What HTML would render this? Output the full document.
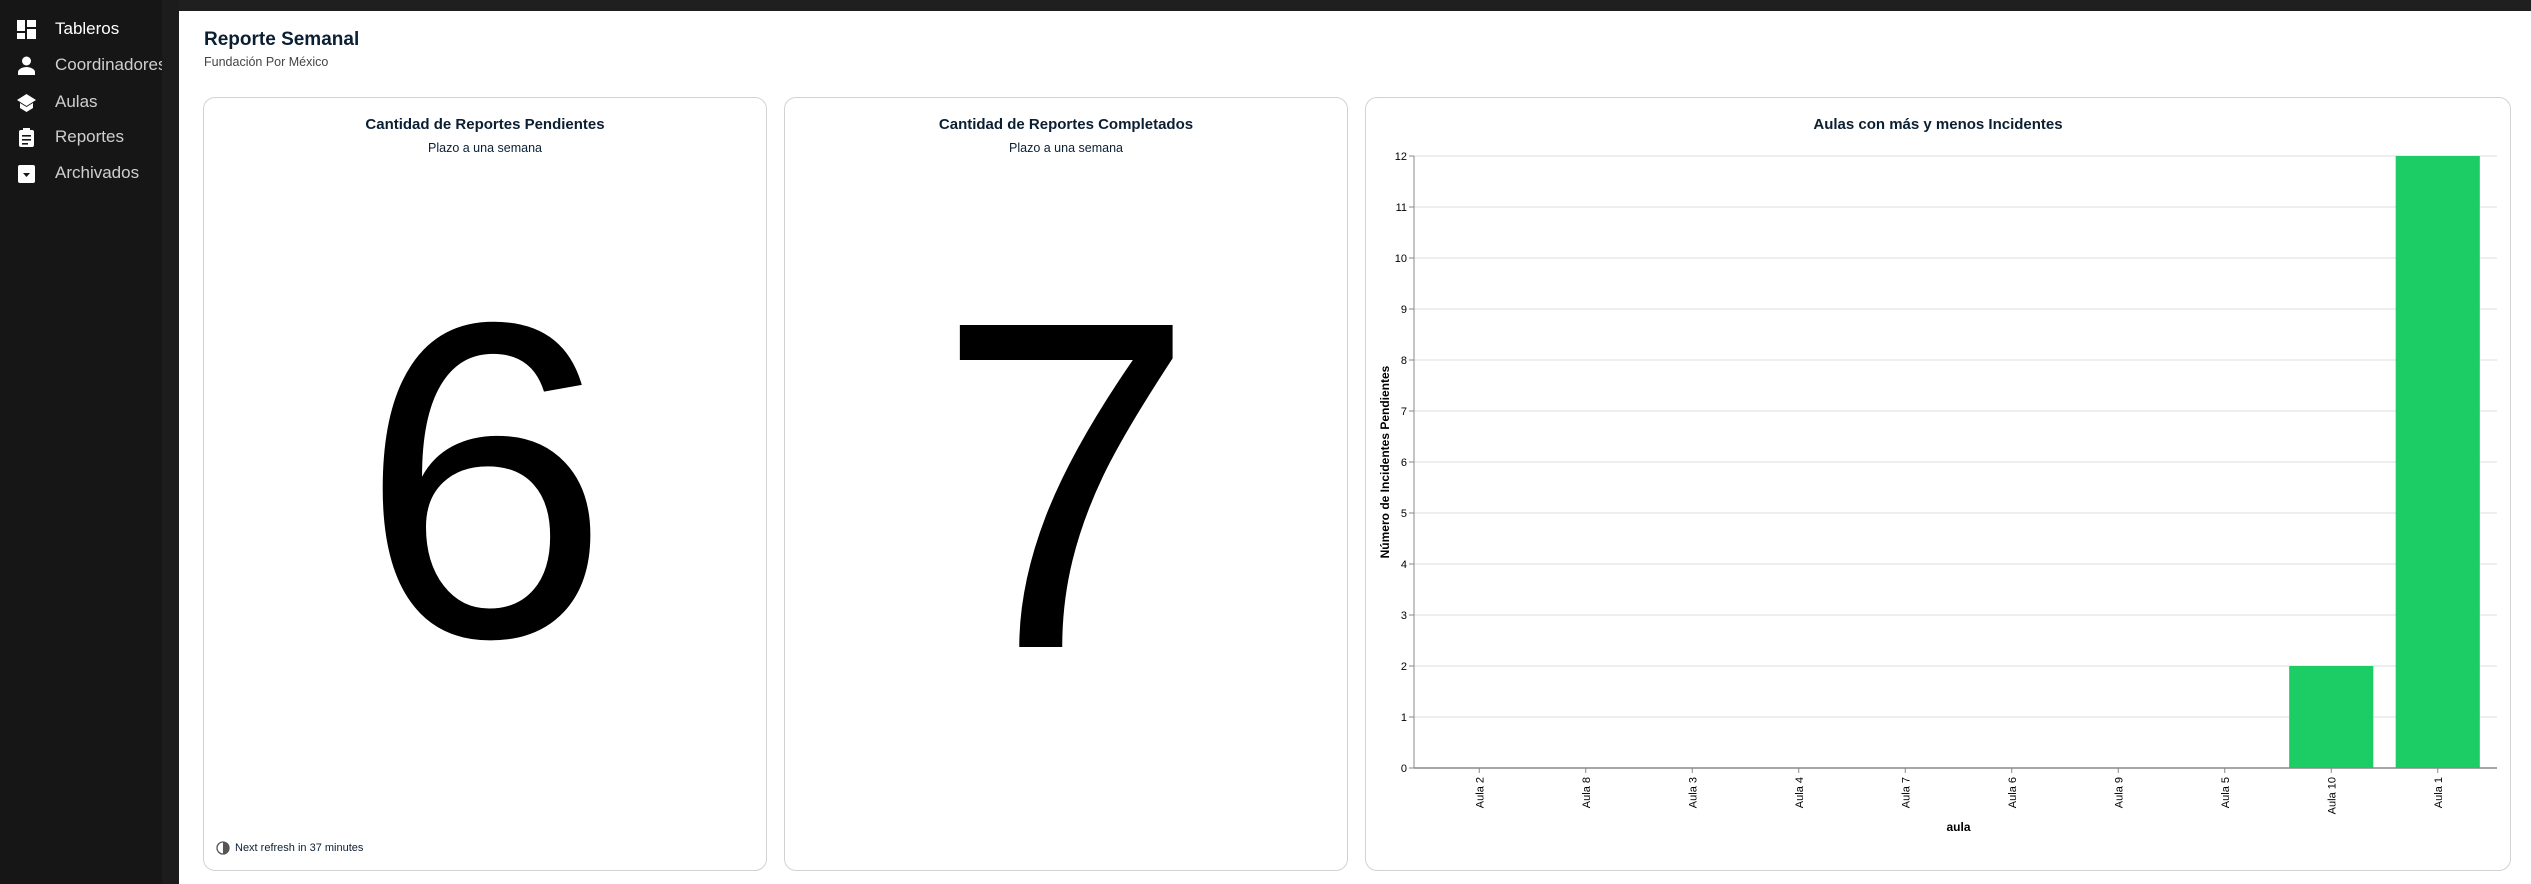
<!DOCTYPE html>
<html><head><meta charset="utf-8">
<style>
*{box-sizing:border-box;margin:0;padding:0}
body{width:2531px;height:884px;overflow:hidden;background:#fff;font-family:"Liberation Sans",sans-serif;position:relative}
#topbar{position:absolute;left:0;top:0;width:2531px;height:11px;background:#1f1f1f}
#sidebar{position:absolute;left:0;top:0;width:162px;height:884px;background:#161616}
#gutter{position:absolute;left:162px;top:0;width:17px;height:884px;background:#1c1c1c}
.nav{position:absolute;left:17px;height:30px;display:flex;align-items:center;color:#cfcfcf;font-size:17px;white-space:nowrap;width:145px;overflow:hidden}
.nav .ic{width:19px;height:19px;margin-right:19px;flex:none}
.t{position:absolute;color:#0b1f33}
.card{position:absolute;border:1px solid #cfd3d6;border-radius:12px;background:#fff}
.ct{position:absolute;left:0;right:0;text-align:center;font-weight:bold;font-size:15px;color:#0b1f33}
.cs{position:absolute;left:0;right:0;text-align:center;font-size:12.5px;color:#0b1f33}
.big{position:absolute;left:0;right:0;text-align:center;font-size:468px;line-height:1;color:#000}
</style></head><body>
<div id="topbar"></div>
<div id="sidebar">
 <div class="nav" style="top:14px;color:#fff"><svg class="ic" viewBox="0 0 19 19"><rect x="0" y="0" width="8" height="11" fill="#fff"/><rect x="10" y="0" width="9" height="7" fill="#fff"/><rect x="0" y="13" width="8" height="6" fill="#fff"/><rect x="10" y="9" width="9" height="10" fill="#fff"/></svg>Tableros</div>
 <div class="nav" style="top:50px"><svg class="ic" viewBox="0 0 19 19"><circle cx="9.5" cy="5" r="4.5" fill="#fff"/><path d="M1 19v-3c0-3 5-5 8.5-5s8.5 2 8.5 5v3z" fill="#fff"/></svg>Coordinadores</div>
 <div class="nav" style="top:87px"><svg class="ic" viewBox="0 0 19 19"><path d="M9.5 1L0 7l9.5 6L19 7z" fill="#fff"/><path d="M3 10v5l6.5 4 6.5-4v-5l-6.5 4z" fill="#fff"/></svg>Aulas</div>
 <div class="nav" style="top:122px"><svg class="ic" viewBox="0 0 19 19"><rect x="2" y="2" width="15" height="17" rx="2" fill="#fff"/><rect x="6" y="0" width="7" height="4" fill="#fff"/><rect x="5" y="7" width="9" height="1.6" fill="#161616"/><rect x="5" y="11" width="9" height="1.6" fill="#161616"/><rect x="5" y="15" width="6" height="1.6" fill="#161616"/></svg>Reportes</div>
 <div class="nav" style="top:158px"><svg class="ic" viewBox="0 0 19 19"><rect x="1" y="1" width="17" height="18" rx="2" fill="#fff"/><path d="M6 9h7l-3.5 4z" fill="#161616"/></svg>Archivados</div>
</div>
<div id="gutter"></div>

<div class="t" style="left:204px;top:29px;font-size:19px;font-weight:bold">Reporte Semanal</div>
<div class="t" style="left:204px;top:55px;font-size:12.5px;color:#444">Fundación Por México</div>

<div class="card" style="left:203px;top:97px;width:564px;height:774px">
 <div class="ct" style="top:18px">Cantidad de Reportes Pendientes</div>
 <div class="cs" style="top:43px">Plazo a una semana</div>
 <div class="big" style="top:158px;font-size:450px">6</div>
 <div style="position:absolute;left:12px;top:743px;font-size:11px;color:#0b1f33;display:flex;align-items:center"><svg width="14" height="14" viewBox="0 0 14 14" style="margin-right:5px"><circle cx="7" cy="7" r="6" fill="none" stroke="#555" stroke-width="1.3"/><path d="M7 1a6 6 0 0 1 0 12z" fill="#555"/></svg>Next refresh in 37 minutes</div>
</div>

<div class="card" style="left:784px;top:97px;width:564px;height:774px">
 <div class="ct" style="top:18px">Cantidad de Reportes Completados</div>
 <div class="cs" style="top:43px">Plazo a una semana</div>
 <div class="big" style="top:154px">7</div>
</div>

<div class="card" style="left:1365px;top:97px;width:1146px;height:774px">
 <div class="ct" style="top:18px">Aulas con más y menos Incidentes</div>
</div>
<svg id="chart" width="2531" height="884" style="position:absolute;left:0;top:0"></svg>
<script>
const categories=["Aula 2","Aula 8","Aula 3","Aula 4","Aula 7","Aula 6","Aula 9","Aula 5","Aula 10","Aula 1"];
const values=[0,0,0,0,0,0,0,0,2,12];
const yTicks=[0,1,2,3,4,5,6,7,8,9,10,11,12];
const NS="http://www.w3.org/2000/svg";
const svg=document.getElementById('chart');
const X0=1426,X1=2491,Y0=768,Y1=156,AX=1414,yMax=12;
const step=(X1-X0)/categories.length;
const xs=i=>X0+step*i+step/2;
const ys=v=>Y0-(Y0-Y1)*v/yMax;
function mk(t,a){const e=document.createElementNS(NS,t);for(const k in a)e.setAttribute(k,a[k]);svg.appendChild(e);return e;}
yTicks.forEach(v=>{
 const g=mk('line',{x1:AX,x2:2497,y1:ys(v),y2:ys(v),stroke:'#dddddd','stroke-width':1});
 
 
 const tk=mk('line',{x1:AX-5,x2:AX,y1:ys(v),y2:ys(v),stroke:'#888'});
 
 
 const t=mk('text',{x:AX-7,y:ys(v)+4,'text-anchor':'end','font-size':11,'font-family':'Liberation Sans, sans-serif',fill:'#000'});
 t.textContent=v;
 
 
});
const ya=mk('line',{x1:AX,x2:AX,y1:Y1,y2:Y0,stroke:'#888'});


categories.forEach((c,i)=>{
 const bw=step*0.79;
 const h=Y0-ys(values[i]);
 const r=mk('rect',{x:xs(i)-bw/2,y:ys(values[i]),width:bw,height:h,fill:'#1ccc64'});
 
 
 const tk=mk('line',{x1:xs(i),x2:xs(i),y1:Y0,y2:Y0+5,stroke:'#888'});
 
 
 const t=mk('text',{x:0,y:0,'text-anchor':'end','font-size':11,'font-family':'Liberation Sans, sans-serif',fill:'#000',transform:`translate(${xs(i)+4},${Y0+9}) rotate(-90)`});
 t.textContent=c;
 
 
});
const xa=mk('line',{x1:AX,x2:2497,y1:Y0,y2:Y0,stroke:'#888','stroke-width':1.5});


const xt=mk('text',{x:(X0+X1)/2,y:831,'text-anchor':'middle','font-size':12,'font-weight':'bold','font-family':'Liberation Sans, sans-serif',fill:'#000'});
xt.textContent='aula';


const yt=mk('text',{x:0,y:0,'text-anchor':'middle','font-size':12,'font-weight':'bold','font-family':'Liberation Sans, sans-serif',fill:'#000',transform:`translate(1389,${(Y0+Y1)/2}) rotate(-90)`});
yt.textContent='Número de Incidentes Pendientes';


</script>
</body></html>
